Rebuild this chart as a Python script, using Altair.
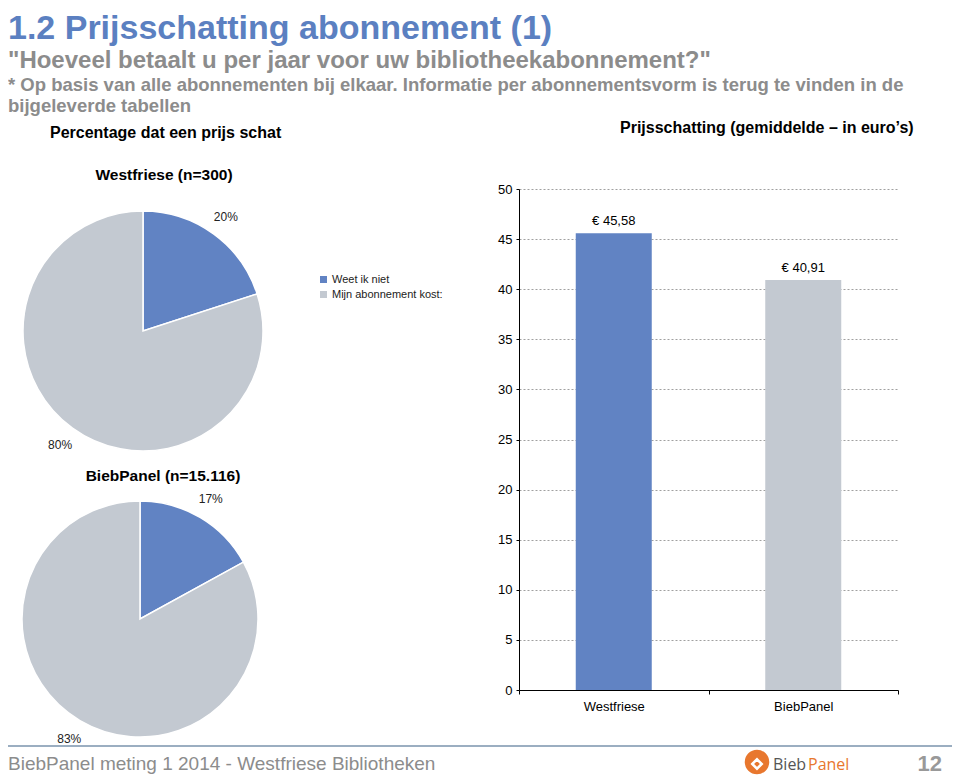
import altair as alt
import pandas as pd

# ---- data ----
pie_categories = ["Weet ik niet", "Mijn abonnement kost:"]
westfriese_pct = [20, 80]
biebpanel_pct = [17, 83]
bar_groups = ["Westfriese", "BiebPanel"]
bar_values = [45.58, 40.91]
y_ticks = [0, 5, 10, 15, 20, 25, 30, 35, 40, 45, 50]

BLUE = "#6183C3"
GREY = "#C3C9D1"
FONT = "Liberation Sans, Arial, sans-serif"

pie1_df = pd.DataFrame({"cat": pie_categories, "pct": westfriese_pct,
                        "idx": [0, 1], "lab": [f"{v}%" for v in westfriese_pct]})
pie2_df = pd.DataFrame({"cat": pie_categories, "pct": biebpanel_pct,
                        "idx": [0, 1], "lab": [f"{v}%" for v in biebpanel_pct]})
bar_df = pd.DataFrame({"group": bar_groups, "value": bar_values,
                       "lab": ["€ " + f"{v:.2f}".replace(".", ",") for v in bar_values]})

# ---- bar chart ----
x_enc = alt.X("group:N", sort=bar_groups,
              scale=alt.Scale(range=[511, 890], paddingInner=0, paddingOuter=0),
              axis=alt.Axis(title=None, orient="bottom", offset=-86, tickBand="extent",
                            labelAngle=0, labelFontSize=13, labelColor="#000", labelFont=FONT,
                            labelPadding=6, tickSize=4, tickColor="#000", domainColor="#000",
                            grid=False))
y_enc = alt.Y("value:Q",
              scale=alt.Scale(domain=[0, 50], range=[682, 181], nice=False, zero=True),
              axis=alt.Axis(title=None, orient="left", offset=-511, values=y_ticks,
                            labelFontSize=13, labelColor="#000", labelFont=FONT,
                            labelPadding=4, tickSize=3, tickColor="#000", domainColor="#000",
                            grid=True, gridColor="#A0A0A0", gridDash=[2, 2], gridWidth=1))

bars = alt.Chart(bar_df).mark_bar(width=76).encode(
    x=x_enc, y=y_enc,
    color=alt.Color("group:N", scale=alt.Scale(domain=bar_groups, range=[BLUE, GREY]), legend=None),
)
bar_labels = alt.Chart(bar_df).mark_text(baseline="bottom", dy=-5, fontSize=13, font=FONT,
                                         color="#000").encode(
    x=alt.X("group:N", sort=bar_groups), y="value:Q", text="lab:N")

# ---- pies ----
def pie(df, cx, cy, r, lr, show_legend):
    if show_legend:
        leg = alt.Legend(orient="none", legendX=310, legendY=266, title=None,
                         symbolType="square", symbolSize=49, symbolStrokeWidth=0,
                         labelFontSize=11, labelColor="#222", labelFont=FONT,
                         rowPadding=3, padding=0, labelOffset=3)
    else:
        leg = None
    color = alt.Color("cat:N", scale=alt.Scale(domain=pie_categories, range=[BLUE, GREY]),
                      legend=leg)
    arcs = alt.Chart(df).mark_arc(radius=r, stroke="white", strokeWidth=1.5).encode(
        theta=alt.Theta("pct:Q", stack=True), order=alt.Order("idx:Q"), color=color,
        x=alt.value(cx), y=alt.value(cy))
    labs = alt.Chart(df).mark_text(radius=lr, fontSize=12, font=FONT, color="#222").encode(
        theta=alt.Theta("pct:Q", stack=True), order=alt.Order("idx:Q"), text="lab:N",
        x=alt.value(cx), y=alt.value(cy))
    return [arcs, labs]

pies = pie(pie1_df, 135, 323, 120, 141, True) + pie(pie2_df, 132, 611, 118, 139, False)

# ---- texts ----
def txt(s, x, y, size, color, weight="normal", align="left", font=FONT, baseline="alphabetic"):
    return alt.Chart(pd.DataFrame({"t": [s]})).mark_text(
        align=align, baseline=baseline, fontSize=size, fontWeight=weight, color=color, font=font
    ).encode(x=alt.value(x), y=alt.value(y), text="t:N")

texts = [
    txt("1.2 Prijsschatting abonnement (1)", 0, 31, 34, "#5B80C1", "bold"),
    txt('"Hoeveel betaalt u per jaar voor uw bibliotheekabonnement?"', 0, 60, 24, "#8C8C8C", "bold"),
    txt("* Op basis van alle abonnementen bij elkaar. Informatie per abonnementsvorm is terug te vinden in de",
        0, 83, 18.5, "#8C8C8C", "bold"),
    txt("bijgeleverde tabellen", 0, 104, 18.5, "#8C8C8C", "bold"),
    txt("Percentage dat een prijs schat", 42, 130, 16, "#000", "bold"),
    txt("Prijsschatting (gemiddelde – in euro’s)", 612, 125, 16, "#000", "bold"),
    txt("Westfriese (n=300)", 156, 172, 15.5, "#000", "bold", align="center"),
    txt("BiebPanel (n=15.116)", 155, 473, 15.5, "#000", "bold", align="center"),
    txt("BiebPanel meting 1 2014 - Westfriese Bibliotheken", 0, 762, 19, "#8C8C8C"),
    txt("12", 934, 763, 22, "#999999", "bold", align="right"),
    txt("Bieb", 765, 762, 16, "#555555", font="Open Sans, sans-serif"),
    txt("Panel", 800, 762, 16, "#E8772E", font="Open Sans, sans-serif"),
]

footer_line = alt.Chart(pd.DataFrame({"a": [0]})).mark_rule(color="#7A93AD", strokeWidth=1.5).encode(
    x=alt.value(0), x2=alt.value(944), y=alt.value(738))
logo_circle = alt.Chart(pd.DataFrame({"a": [0]})).mark_point(
    shape="circle", filled=True, size=600, color="#E8772E", opacity=1).encode(
    x=alt.value(749), y=alt.value(754))
logo_mark = alt.Chart(pd.DataFrame({"a": [0]})).mark_point(
    shape="diamond", filled=False, size=90, color="white", strokeWidth=2.5, opacity=1).encode(
    x=alt.value(749), y=alt.value(756))

chart = alt.layer(
    bars, bar_labels, *pies, *texts, footer_line, logo_circle, logo_mark
).resolve_scale(color="independent").properties(
    width=944, height=768, padding=0, autosize=alt.AutoSizeParams(type="none"),
    background="white"
).configure_view(stroke=None)

chart.save("out.html", embed_options={"renderer": "svg", "actions": False})
